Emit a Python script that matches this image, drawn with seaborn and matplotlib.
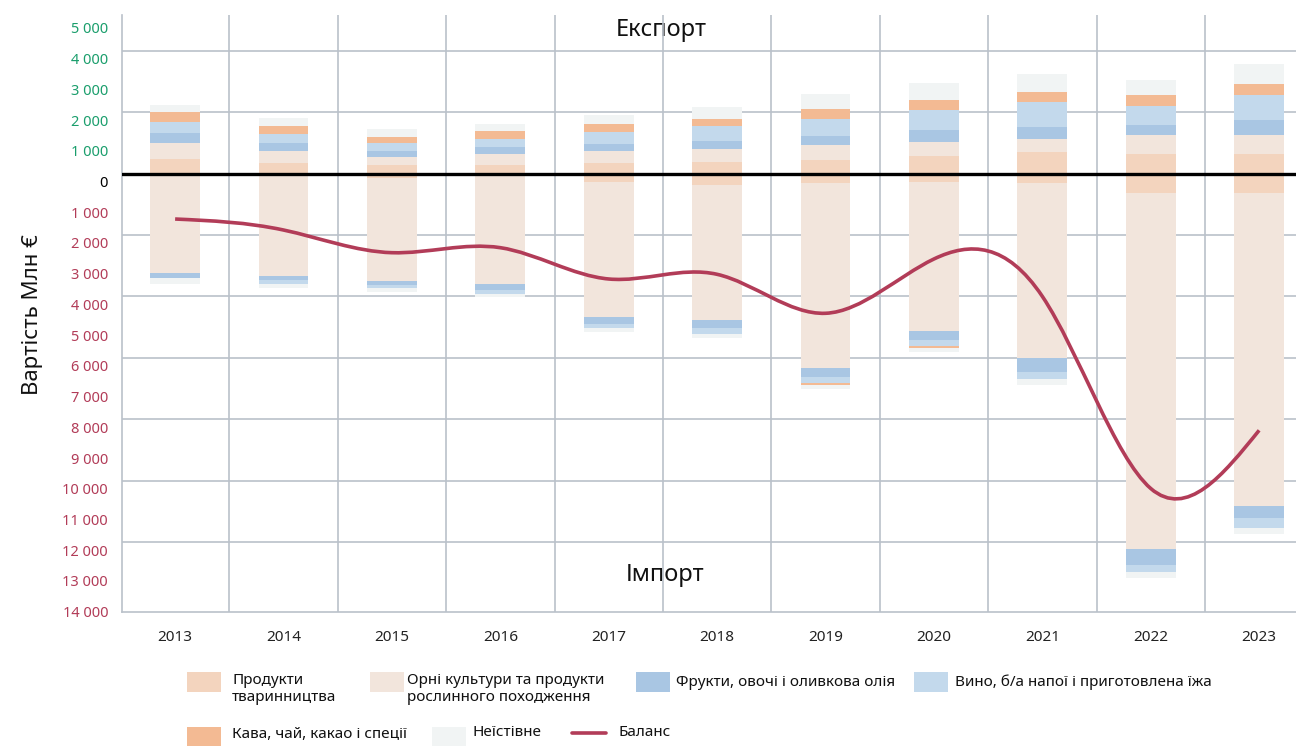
"""
Баланс торгівлі агропродукцією: експорт (вгору) та імпорт (вниз), млн €.
"""

import numpy as np
import seaborn as sns
import matplotlib.pyplot as plt
from matplotlib.path import Path
from matplotlib.patches import PathPatch, Rectangle
from matplotlib.lines import Line2D
from matplotlib.transforms import ScaledTranslation

years = ["2013", "2014", "2015", "2016", "2017", "2018",
         "2019", "2020", "2021", "2022", "2023"]

# Експорт, млн €
exp_animal = [472, 342, 277, 277, 342, 390, 455, 569, 696, 634, 638]
exp_arable = [520, 390, 260, 358, 390, 423, 488, 455, 430, 618, 615]
exp_fruit = [325, 260, 195, 228, 228, 260, 293, 390, 384, 325, 488]
exp_wine = [368, 293, 260, 260, 390, 488, 553, 651, 813, 618, 813]
exp_coffee = [325, 260, 195, 260, 260, 228, 325, 325, 325, 358, 361]
exp_nonfood = [218, 260, 260, 228, 293, 390, 488, 553, 592, 488, 651]

# Імпорт, млн €
imp_animal = [0, 0, 146, 0, 260, 358, 293, 277, 306, 631, 631]
imp_arable = [3237, 3334, 3350, 3595, 4424, 4424, 6050, 4847, 5693, 11581, 10186]
imp_fruit = [163, 130, 130, 195, 228, 260, 293, 293, 475, 524, 387]
imp_wine = [0, 130, 98, 130, 130, 195, 173, 195, 221, 228, 348]
imp_coffee = [0, 0, 0, 0, 0, 0, 88, 65, 0, 0, 0]
imp_nonfood = [185, 130, 130, 98, 130, 130, 130, 130, 198, 215, 195]

# Баланс, млн €
balance = [-1480, -1838, -2576, -2413, -3432, -3280,
           -4548, -2781, -3998, -10250, -8357]

categories = ["Продукти\nтваринництва",
              "Орні культури та продукти\nрослинного походження",
              "Фрукти, овочі і оливкова олія",
              "Вино, б/а напої і приготовлена їжа",
              "Кава, чай, какао і спеції",
              "Неїстівне"]
colors = ["#F3D4BE", "#F2E5DC", "#A9C6E3", "#C3D9EC", "#F3BA93", "#F1F4F4"]
line_color = "#B23C58"
grid_color = "#BAC1CA"

ytick_vals = list(range(-14000, 5001, 1000))


def natural_ctrl(v):
    # контрольні точки природного кубічного сплайна (як d3.curveNatural)
    v = np.asarray(v, float)
    n = len(v) - 1
    a = np.zeros(n)
    b = np.zeros(n)
    r = np.zeros(n)
    a[0], b[0], r[0] = 0, 2, v[0] + 2 * v[1]
    for i in range(1, n - 1):
        a[i], b[i], r[i] = 1, 4, 4 * v[i] + 2 * v[i + 1]
    a[n - 1], b[n - 1], r[n - 1] = 2, 7, 8 * v[n - 1] + v[n]
    for i in range(1, n):
        m = a[i] / b[i - 1]
        b[i] -= m
        r[i] -= m * r[i - 1]
    a[n - 1] = r[n - 1] / b[n - 1]
    for i in range(n - 2, -1, -1):
        a[i] = (r[i] - a[i + 1]) / b[i]
    b[n - 1] = (v[n] + a[n - 1]) / 2
    for i in range(n - 1):
        b[i] = 2 * v[i + 1] - a[i + 1]
    return a, b


def main() -> None:
    sns.set_theme(style="white")
    plt.rcParams["font.family"] = ["Noto Sans", "DejaVu Sans"]

    W, H = 1296, 746
    fig = plt.figure(figsize=(W / 100, H / 100), dpi=100)
    ax = fig.add_axes([122 / W, 134 / H, 1174 / W, 597 / H])

    exports = [exp_animal, exp_arable, exp_fruit, exp_wine, exp_coffee, exp_nonfood]
    imports = [imp_animal, imp_arable, imp_fruit, imp_wine, imp_coffee, imp_nonfood]

    base = np.zeros(len(years))
    for vals, c in zip(exports, colors):
        sns.barplot(x=years, y=vals, bottom=base.copy(), color=c, saturation=1,
                    width=0.46, linewidth=0, errorbar=None, ax=ax)
        base += np.array(vals)

    base = np.zeros(len(years))
    for vals, c in zip(imports, colors):
        neg = -np.array(vals, float)
        sns.barplot(x=years, y=neg, bottom=base.copy(), color=c, saturation=1,
                    width=0.46, linewidth=0, errorbar=None, ax=ax)
        base += neg

    # сітка
    for k in range(len(years) - 1):
        ax.axvline(k + 0.5, color=grid_color, lw=1.2, zorder=0.5)
    for v in range(-12000, 5000, 2000):
        if v != 0:
            ax.axhline(v, color=grid_color, lw=1.2, zorder=0.5)
    ax.axhline(0, color="black", lw=2.4, zorder=3)

    # лінія балансу (згладжена)
    xs = np.arange(len(years), dtype=float)
    cx1, cx2 = natural_ctrl(xs)
    cy1, cy2 = natural_ctrl(balance)
    verts = [(xs[0], balance[0])]
    codes = [Path.MOVETO]
    for i in range(len(xs) - 1):
        verts += [(cx1[i], cy1[i]), (cx2[i], cy2[i]), (xs[i + 1], balance[i + 1])]
        codes += [Path.CURVE4] * 3
    ax.add_patch(PathPatch(Path(verts, codes), facecolor="none",
                           edgecolor=line_color, lw=2.6, zorder=4,
                           capstyle="butt"))

    ax.set_xlim(-0.49, 10.34)
    ax.set_ylim(-14270, 5160)

    ax.set_yticks(ytick_vals)
    ax.set_yticklabels([f"{abs(v):,}".replace(",", " ") for v in ytick_vals])
    ax.tick_params(axis="y", length=0, pad=10, labelsize=10.5)
    ax.tick_params(axis="x", length=0, pad=13, labelsize=11, labelcolor="#222222")
    shift = ScaledTranslation(0, -0.08, fig.dpi_scale_trans)
    for v, lab in zip(ytick_vals, ax.get_yticklabels()):
        lab.set_transform(lab.get_transform() + shift)
        lab.set_color("#1A9E6C" if v > 0 else ("#B23C58" if v < 0 else "black"))

    ax.set_xlabel("")
    ax.set_ylabel("")
    ax.grid(False)
    for s in ["top", "right"]:
        ax.spines[s].set_visible(False)
    for s in ["left", "bottom"]:
        ax.spines[s].set_color(grid_color)
        ax.spines[s].set_linewidth(1.2)

    ax.text(0.459, 0.975, "Експорт", transform=ax.transAxes, ha="center",
            va="center", fontsize=17, color="#111111", zorder=0.4)
    ax.text(0.463, 0.062, "Імпорт", transform=ax.transAxes, ha="center",
            va="center", fontsize=17, color="#111111", zorder=0.4)

    fig.text(33 / W, 1 - 315 / H, "Вартість Млн €", rotation=90,
             ha="center", va="center", fontsize=16, color="#111111")

    # легенда
    def px(x, y):
        return x / W, 1 - y / H

    items = [
        (187, 682, 232, 689, 0),
        (370, 682, 407, 689, 1),
        (636, 682, 676, 682, 2),
        (914, 682, 955, 682, 3),
        (187, 737, 232, 735, 4),
        (432, 737, 472, 733, 5),
    ]
    for bx, by, tx, ty, i in items:
        x0, y0 = px(bx, by + 10)
        fig.add_artist(Rectangle((x0, y0), 34 / W, 20 / H, transform=fig.transFigure,
                                 facecolor=colors[i], edgecolor="none"))
        fig.text(*px(tx, ty), categories[i], ha="left", va="center",
                 fontsize=11, linespacing=1.1, color="#111111")
    lx0, ly = px(572, 733)
    lx1, _ = px(606, 733)
    fig.add_artist(Line2D([lx0, lx1], [ly, ly], transform=fig.transFigure,
                          color=line_color, lw=2.6))
    fig.text(*px(618, 733), "Баланс", ha="left", va="center",
             fontsize=11, color="#111111")

    fig.savefig("out.png", dpi=100)
    plt.close(fig)


if __name__ == "__main__":
    main()
